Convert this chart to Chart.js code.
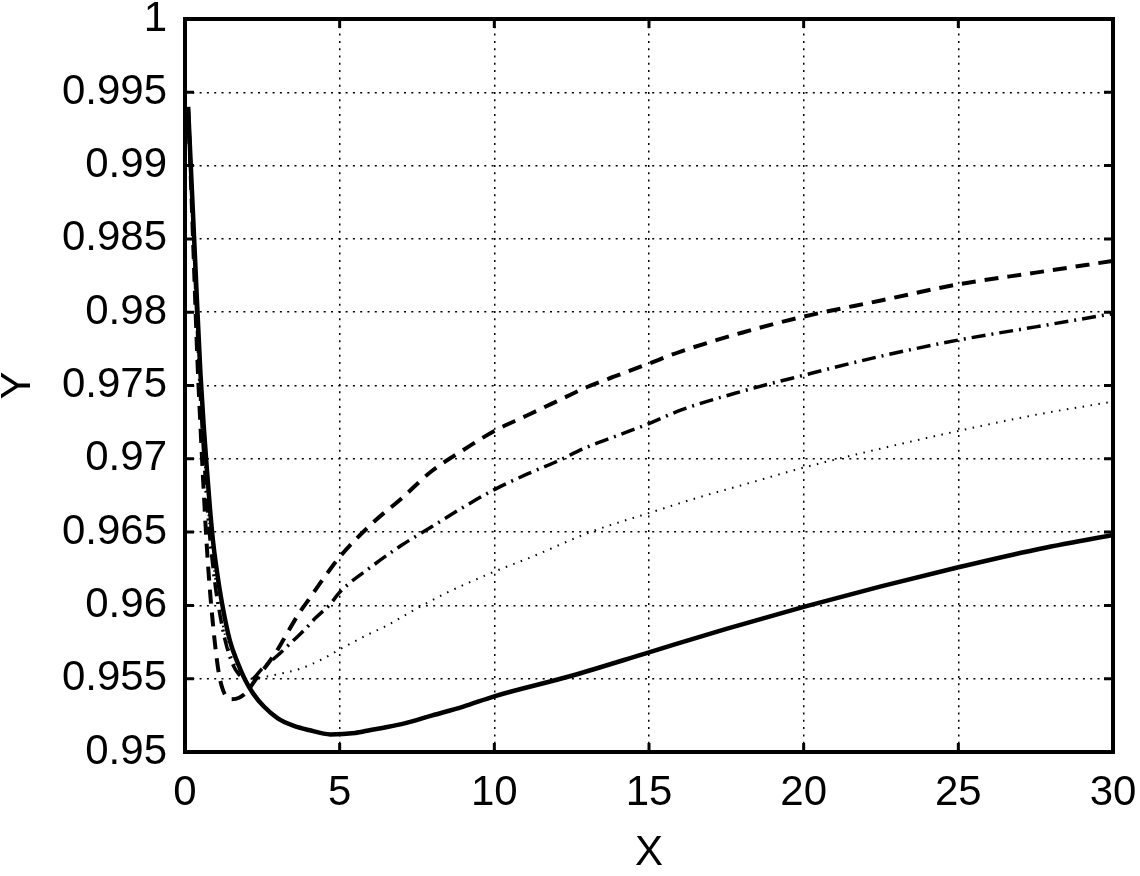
<!DOCTYPE html>
<html>
<head>
<meta charset="utf-8">
<script src="https://cdn.jsdelivr.net/npm/chart.js@4.4.1/dist/chart.umd.min.js"></script>
<style>
  html, body { margin: 0; padding: 0; background: #ffffff; }
  #wrap { width: 1140px; height: 876px; }
</style>
</head>
<body>
<div id="wrap"><canvas id="c" width="1140" height="876"></canvas></div>
<script>
// ---- data ----
const xTickValues = [0, 5, 10, 15, 20, 25, 30];
const xTickLabels = ["0", "5", "10", "15", "20", "25", "30"];
const yTickValues = [0.95, 0.955, 0.96, 0.965, 0.97, 0.975, 0.98, 0.985, 0.99, 0.995, 1];
const yTickLabels = ["0.95", "0.955", "0.96", "0.965", "0.97", "0.975", "0.98", "0.985", "0.99", "0.995", "1"];

const solidX = [0.1, 0.2, 0.3, 0.4, 0.5, 0.6, 0.7, 0.8, 0.9, 1.0, 1.2, 1.45, 1.7, 1.95, 2.2, 2.55, 3.0, 3.5, 4.0, 4.7, 5.5, 6.0, 7.0, 8.0, 9.0, 10, 12.5, 15, 17.5, 20, 22.5, 25, 27.5, 30];
const solidY = [0.9940, 0.9894, 0.9848, 0.9802, 0.9758, 0.9724, 0.9695, 0.9668, 0.9645, 0.9628, 0.9601, 0.9576, 0.9561, 0.9549, 0.9540, 0.9531, 0.9523, 0.9518, 0.9515, 0.9512, 0.9513, 0.9515, 0.9519, 0.9525, 0.9531, 0.9538, 0.9552, 0.9568, 0.9584, 0.9599, 0.9613, 0.9626, 0.9638, 0.9648];

const dashedX = [0.1, 0.2, 0.3, 0.4, 0.5, 0.6, 0.7, 0.8, 0.9, 1.0, 1.1, 1.2, 1.3, 1.5, 1.75, 2.0, 2.3, 2.6, 3.0, 3.3, 3.7, 4.0, 4.5, 5.0, 6.0, 7.0, 8.0, 9.0, 10, 11, 12, 13, 14, 15, 16, 18, 20, 22.5, 25, 27.5, 30];
const dashedY = [0.9940, 0.9885, 0.9826, 0.9768, 0.9722, 0.9680, 0.9642, 0.9612, 0.9588, 0.9568, 0.9553, 0.9544, 0.9539, 0.9536, 0.9537, 0.9541, 0.9550, 0.9558, 0.9570, 0.9581, 0.9595, 0.9604, 0.9619, 0.9633, 0.9655, 0.9673, 0.9692, 0.9706, 0.9719, 0.9729, 0.9739, 0.9749, 0.9757, 0.9765, 0.9773, 0.9786, 0.9797, 0.9808, 0.9819, 0.9827, 0.9835];

const dashDotX = [0.1, 0.2, 0.3, 0.4, 0.5, 0.6, 0.7, 0.8, 0.9, 1.0, 1.1, 1.3, 1.5, 1.7, 1.9, 2.1, 2.5, 3.0, 3.5, 3.85, 4.2, 4.7, 5.0, 6.0, 7.0, 8.0, 9.0, 10, 11, 12, 13, 14, 15, 16, 18, 20, 22.5, 25, 27.5, 30];
const dashDotY = [0.9940, 0.9890, 0.9838, 0.9788, 0.9742, 0.9705, 0.9673, 0.9647, 0.9627, 0.9610, 0.9597, 0.9576, 0.9562, 0.9554, 0.9550, 0.9549, 0.9557, 0.9566, 0.9576, 0.9583, 0.9591, 0.9601, 0.9609, 0.9626, 0.9641, 0.9654, 0.9667, 0.9679, 0.9689, 0.9698, 0.9708, 0.9716, 0.9724, 0.9733, 0.9746, 0.9757, 0.9770, 0.9781, 0.9790, 0.9799];

const dottedX = [0.1, 0.2, 0.3, 0.4, 0.5, 0.6, 0.7, 0.8, 0.9, 1.0, 1.1, 1.3, 1.5, 1.7, 1.9, 2.1, 2.5, 3.0, 3.75, 4.5, 5.0, 6.0, 6.5, 7.5, 8.5, 10, 11.2, 13.1, 15, 16.5, 18, 20, 22.5, 25, 27.5, 30];
const dottedY = [0.9940, 0.9891, 0.9840, 0.9791, 0.9746, 0.9710, 0.9678, 0.9652, 0.9631, 0.9614, 0.9600, 0.9579, 0.9565, 0.9556, 0.9551, 0.9550, 0.9551, 0.9553, 0.9557, 0.9564, 0.9570, 0.9581, 0.9586, 0.9598, 0.9609, 0.9623, 0.9633, 0.9650, 0.9663, 0.9673, 0.9682, 0.9694, 0.9707, 0.9719, 0.9730, 0.9739];

const xTitle = "X";
const yTitle = "Y";

// ---- build ----
const pts = (xs, ys) => xs.map((x, i) => ({ x: x, y: ys[i] }));
const FONT = "'Liberation Sans', Arial, Helvetica, sans-serif";

const frameAndTicks = {
  id: 'frameAndTicks',
  afterDraw(chart) {
    const { ctx, chartArea: a, scales } = chart;
    ctx.save();
    ctx.strokeStyle = '#000';
    ctx.lineWidth = 3;
    ctx.setLineDash([]);
    const tl = 9;
    ctx.beginPath();
    xTickValues.forEach(v => {
      const px = scales.x.getPixelForValue(v);
      ctx.moveTo(px, a.bottom); ctx.lineTo(px, a.bottom - tl);
      ctx.moveTo(px, a.top); ctx.lineTo(px, a.top + tl);
    });
    yTickValues.forEach(v => {
      const py = scales.y.getPixelForValue(v);
      ctx.moveTo(a.left, py); ctx.lineTo(a.left + tl, py);
      ctx.moveTo(a.right, py); ctx.lineTo(a.right - tl, py);
    });
    ctx.stroke();
    ctx.lineWidth = 4;
    ctx.strokeRect(a.left, a.top, a.right - a.left, a.bottom - a.top);
    ctx.restore();
  }
};

const noEdgePad = s => { s.paddingLeft = 0; s.paddingRight = 0; s.paddingTop = 0; s.paddingBottom = 0; };

new Chart(document.getElementById('c'), {
  type: 'line',
  data: {
    datasets: [
      { label: 'solid', data: pts(solidX, solidY), borderColor: '#000', borderWidth: 4.5, borderDash: [], pointRadius: 0, cubicInterpolationMode: 'monotone', fill: false },
      { label: 'dashed', data: pts(dashedX, dashedY), borderColor: '#000', borderWidth: 4, borderDash: [14, 9], pointRadius: 0, cubicInterpolationMode: 'monotone', fill: false },
      { label: 'dashdot', data: pts(dashDotX, dashDotY), borderColor: '#000', borderWidth: 3.5, borderDash: [14, 6, 2, 6], pointRadius: 0, cubicInterpolationMode: 'monotone', fill: false },
      { label: 'dotted', data: pts(dottedX, dottedY), borderColor: '#000', borderWidth: 2, borderDash: [1.5, 6.5], pointRadius: 0, cubicInterpolationMode: 'monotone', fill: false }
    ]
  },
  options: {
    responsive: false,
    animation: false,
    devicePixelRatio: 1,
    layout: { padding: { left: 0, top: 19, right: 27, bottom: 0 } },
    plugins: { legend: { display: false }, tooltip: { enabled: false } },
    scales: {
      x: {
        type: 'linear',
        min: 0, max: 30,
        afterBuildTicks: s => { s.ticks = xTickValues.map(v => ({ value: v })); },
        afterFit: s => { s.height = 124; noEdgePad(s); },
        ticks: {
          color: '#000', padding: 16, maxRotation: 0, autoSkip: false,
          font: { family: FONT, size: 42 },
          callback: (v, i) => xTickLabels[i]
        },
        grid: { color: '#000', lineWidth: 1.5, drawTicks: false },
        border: { display: false, dash: [2, 5.3] },
        title: { display: true, text: xTitle, color: '#000', font: { family: FONT, size: 42, lineHeight: 1 }, padding: { top: 0, bottom: 2 } }
      },
      y: {
        type: 'linear',
        min: 0.95, max: 1,
        afterBuildTicks: s => { s.ticks = yTickValues.map(v => ({ value: v })); },
        afterFit: s => { s.width = 185; noEdgePad(s); },
        ticks: {
          color: '#000', padding: 18, autoSkip: false,
          font: { family: FONT, size: 42 },
          callback: (v, i) => yTickLabels[i]
        },
        grid: { color: '#000', lineWidth: 1.5, drawTicks: false },
        border: { display: false, dash: [2, 5.3] },
        title: { display: true, text: yTitle, color: '#000', font: { family: FONT, size: 42, lineHeight: 0.86 }, padding: { top: 0, bottom: 0 } }
      }
    }
  },
  plugins: [frameAndTicks]
});
</script>
</body>
</html>
